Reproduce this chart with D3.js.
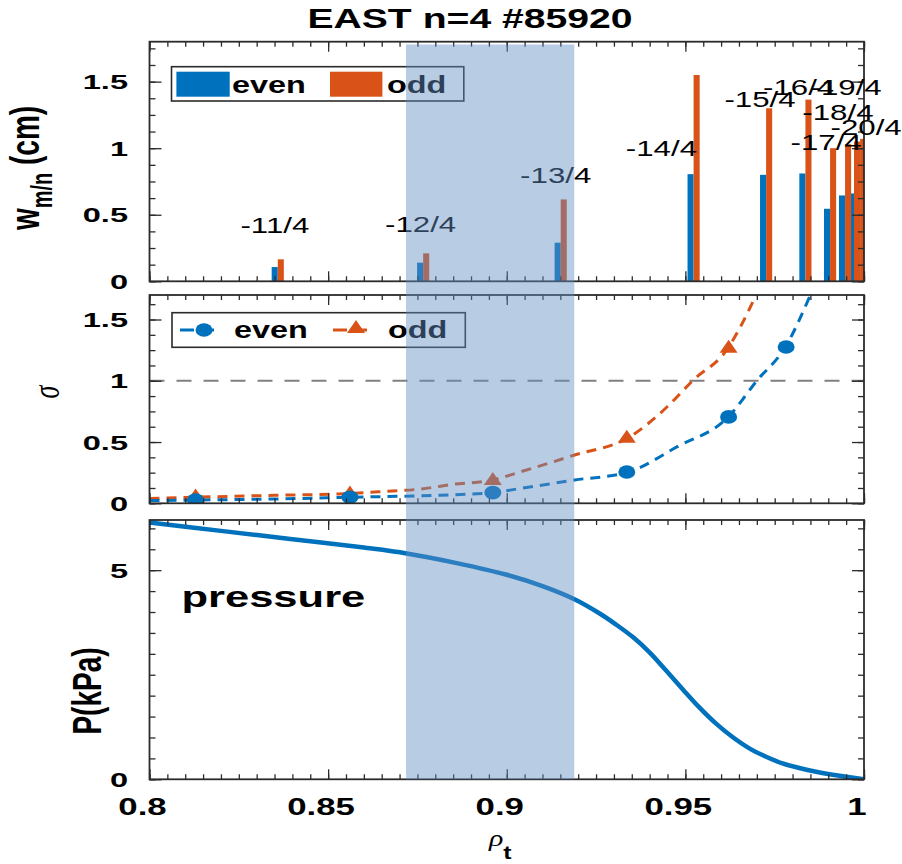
<!DOCTYPE html>
<html><head><meta charset="utf-8">
<script src="https://cdn.jsdelivr.net/npm/d3@7"></script>
<style>html,body{margin:0;padding:0;background:#fff}svg{display:block}</style>
</head><body><div id="chart"></div>
<script>
// ---------------- data ----------------
const modeLabels = ["-11/4","-12/4","-13/4","-14/4","-15/4","-16/4","-17/4","-18/4","-19/4","-20/4"];
const modeRho    = [0.8359,0.8766,0.9151,0.9523,0.9726,0.9836,0.9905,0.9947,0.9972,0.9989];
const widthEven  = [0.107,0.14,0.29,0.805,0.80,0.81,0.545,0.645,0.66,0.66];
const widthOdd   = [0.165,0.21,0.615,1.55,1.30,1.365,1.0,1.03,1.05,1.07];
const labelRho   = [0.8351,0.8759,0.9137,0.9433,0.9709,0.9817,0.9894,0.9927,0.9950,1.0006];
const labelW     = [0.362,0.372,0.735,0.94,1.31,1.40,0.985,1.21,1.40,1.10];

const sigmaEvenPtRho = [0.8129,0.8561,0.8961,0.9336,0.9621,0.9782];
const sigmaEvenPt    = [0.027,0.049,0.087,0.255,0.705,1.276];
const sigmaOddPtRho  = [0.8129,0.8561,0.8961,0.9336,0.9621];
const sigmaOddPt     = [0.055,0.08,0.19,0.535,1.27];
const sigmaEvenRho = [0.800,0.813,0.835,0.856,0.876,0.896,0.904,0.919,0.934,0.9476,0.962,0.970,0.978,0.985];
const sigmaEven    = [0.022,0.027,0.035,0.049,0.062,0.087,0.122,0.19,0.255,0.46,0.705,1.0,1.276,1.70];
const sigmaOddRho  = [0.800,0.813,0.835,0.856,0.865,0.876,0.885,0.896,0.904,0.919,0.934,0.945,0.952,0.962,0.9654,0.9698];
const sigmaOdd     = [0.040,0.050,0.065,0.08,0.095,0.117,0.155,0.19,0.258,0.394,0.535,0.79,1.0,1.27,1.44,1.70];

const pressRho = [0.800,0.820,0.840,0.860,0.872,0.886,0.900,0.910,0.9191,0.9259,0.9306,0.9353,0.9399,0.9446,0.9493,0.9539,0.9586,0.9632,0.9679,0.9726,0.9772,0.9819,0.9866,0.9912,1.000];
const pressure = [6.14,5.94,5.74,5.54,5.40,5.17,4.89,4.62,4.30,3.97,3.70,3.40,3.04,2.60,2.15,1.72,1.33,1.01,0.74,0.54,0.38,0.27,0.18,0.11,0.0];

const bandRho = [0.8718, 0.9189];
const xTicks = [0.8,0.85,0.9,0.95,1];
const xTickLabels = ["0.8","0.85","0.9","0.95","1"];
const wTicks = [0,0.5,1,1.5];
const wTickLabels = ["0","0.5","1","1.5"];
const sTicks = [0,0.5,1,1.5];
const sTickLabels = ["0","0.5","1","1.5"];
const pTicks = [0,5];
const pTickLabels = ["0","5"];

// ---------------- layout ----------------
const W = 902, H = 864, S = 1.45;
const BLUE = "#0072BD", ORANGE = "#D95319", FRAME = "#2b2b2b";
const FONT = "'Liberation Sans', Arial, Helvetica, sans-serif";
const X0 = 149.5, X1 = 864;
const panels = {
  top: {t: 41.7, b: 281.3},
  mid: {t: 295, b: 503.3},
  bot: {t: 520, b: 779.3}
};
const svg = d3.select("#chart").append("svg").attr("width", W).attr("height", H);
const x = d3.scaleLinear().domain([0.8, 1]).range([X0, X1]);
const yW = d3.scaleLinear().domain([0, 1.8]).range([panels.top.b, panels.top.t]);
const yS = d3.scaleLinear().domain([0, 1.7]).range([panels.mid.b, panels.mid.t]);
const yP = d3.scaleLinear().domain([0, 6.2]).range([panels.bot.b, panels.bot.t]);

function stext(parent, px, py, str, o = {}) {
  const g = parent.append("g")
    .attr("transform", `translate(${px},${py}) scale(${o.s || S},1)` + (o.rot ? " rotate(-90)" : ""));
  const t = g.append("text")
    .attr("text-anchor", o.anchor || "start")
    .attr("font-family", o.family || FONT)
    .attr("font-size", o.size || 22)
    .attr("font-weight", o.weight || "normal")
    .attr("font-style", o.style || "normal")
    .attr("fill", o.fill || "#000");
  if (str !== null) t.text(str);
  return t;
}

// clip paths
Object.entries(panels).forEach(([k, p]) => {
  svg.append("clipPath").attr("id", "clip-" + k)
    .append("rect").attr("x", X0).attr("y", p.t).attr("width", X1 - X0).attr("height", p.b - p.t);
});

// ---------------- top panel: bars ----------------
const BW = x(0.8017) - x(0.8);
const gBars = svg.append("g").attr("clip-path", "url(#clip-top)");
gBars.selectAll("rect.even").data(modeRho).join("rect").attr("class", "even")
  .attr("x", (d) => x(d) - BW).attr("width", BW)
  .attr("y", (d, i) => yW(widthEven[i])).attr("height", (d, i) => yW(0) - yW(widthEven[i]))
  .attr("fill", BLUE);
gBars.selectAll("rect.odd").data(modeRho).join("rect").attr("class", "odd")
  .attr("x", (d) => x(d)).attr("width", BW)
  .attr("y", (d, i) => yW(widthOdd[i])).attr("height", (d, i) => yW(0) - yW(widthOdd[i]))
  .attr("fill", ORANGE);

// ---------------- middle panel: sigma ----------------
const gS = svg.append("g").attr("clip-path", "url(#clip-mid)");
gS.append("line").attr("x1", X0).attr("x2", X1).attr("y1", yS(1)).attr("y2", yS(1))
  .attr("stroke", "#808080").attr("stroke-width", 2.2).attr("stroke-dasharray", "15,12");
const lineS = (rr, vv) => d3.line().x((d, i) => x(rr[i])).y((d) => yS(d)).curve(d3.curveMonotoneX)(vv);
gS.append("path").attr("d", lineS(sigmaOddRho, sigmaOdd)).attr("fill", "none")
  .attr("stroke", ORANGE).attr("stroke-width", 3).attr("stroke-dasharray", "10,7");
gS.append("path").attr("d", lineS(sigmaEvenRho, sigmaEven)).attr("fill", "none")
  .attr("stroke", BLUE).attr("stroke-width", 3).attr("stroke-dasharray", "10,7");
const triPath = "M0,-8 L9,5 L-9,5 Z";
gS.selectAll("path.tri").data(sigmaOddPtRho).join("path").attr("class", "tri")
  .attr("d", triPath).attr("fill", ORANGE)
  .attr("transform", (d, i) => `translate(${x(d)},${yS(sigmaOddPt[i])})`);
gS.selectAll("ellipse.dot").data(sigmaEvenPtRho).join("ellipse").attr("class", "dot")
  .attr("cx", (d) => x(d)).attr("cy", (d, i) => yS(sigmaEvenPt[i]))
  .attr("rx", 8.5).attr("ry", 6.8).attr("fill", BLUE);

// ---------------- bottom panel: pressure ----------------
const gP = svg.append("g").attr("clip-path", "url(#clip-bot)");
gP.append("path")
  .attr("d", d3.line().x((d, i) => x(pressRho[i])).y((d) => yP(d)).curve(d3.curveCatmullRom.alpha(0.5))(pressure))
  .attr("fill", "none").attr("stroke", BLUE).attr("stroke-width", 4.5).attr("stroke-linejoin", "round");

// ---------------- frames & ticks ----------------
const minorX = d3.range(0, 41).map((i) => +(0.8 + i * 0.005).toFixed(3));
function frame(p, yScale, majorY, minorY) {
  const g = svg.append("g");
  const ax = (gen, tr) => {
    const a = g.append("g").attr("transform", tr).call(gen);
    a.select(".domain").remove();
    a.selectAll("line").attr("stroke", FRAME).attr("stroke-width", 1.3);
    a.selectAll("text").remove();
  };
  ax(d3.axisBottom(x).tickValues(minorX).tickSize(-5).tickSizeOuter(0), `translate(0,${p.b})`);
  ax(d3.axisBottom(x).tickValues(xTicks).tickSize(-10).tickSizeOuter(0), `translate(0,${p.b})`);
  ax(d3.axisTop(x).tickValues(minorX).tickSize(-5).tickSizeOuter(0), `translate(0,${p.t})`);
  ax(d3.axisTop(x).tickValues(xTicks).tickSize(-10).tickSizeOuter(0), `translate(0,${p.t})`);
  ax(d3.axisLeft(yScale).tickValues(minorY).tickSize(-6).tickSizeOuter(0), `translate(${X0},0)`);
  ax(d3.axisLeft(yScale).tickValues(majorY).tickSize(-12).tickSizeOuter(0), `translate(${X0},0)`);
  ax(d3.axisRight(yScale).tickValues(minorY).tickSize(-6).tickSizeOuter(0), `translate(${X1},0)`);
  ax(d3.axisRight(yScale).tickValues(majorY).tickSize(-12).tickSizeOuter(0), `translate(${X1},0)`);
  g.append("rect").attr("x", X0).attr("y", p.t).attr("width", X1 - X0).attr("height", p.b - p.t)
    .attr("fill", "none").attr("stroke", FRAME).attr("stroke-width", 1.8);
}
frame(panels.top, yW, wTicks, d3.range(0, 15).map((i) => i * 0.125));
frame(panels.mid, yS, sTicks, d3.range(0, 14).map((i) => i * 0.125));
frame(panels.bot, yP, pTicks, d3.range(0, 13).map((i) => i * 0.5));

// y tick labels
const yLab = (ticks, labels, sc) => ticks.forEach((v, i) =>
  stext(svg, 128, sc(v) + 7.5, labels[i], {anchor: "end", size: 21, weight: "bold", s: 1.55}));
yLab(wTicks, wTickLabels, yW);
yLab(sTicks, sTickLabels, yS);
yLab(pTicks, pTickLabels, yP);
// x tick labels
xTicks.forEach((v, i) => stext(svg, x(v) - 7, 815, xTickLabels[i], {anchor: "middle", size: 24, weight: "bold"}));

// bar labels
modeLabels.forEach((lab, i) => stext(svg, x(labelRho[i]), yW(labelW[i]), lab, {anchor: "middle", size: 22, s: 1.42}));

// title
stext(svg, 470, 28.3, "EAST n=4 #85920", {anchor: "middle", size: 27, weight: "bold"});

// axis titles
const tw = stext(svg, 39, 168, null, {anchor: "middle", size: 28, weight: "bold", rot: true});
tw.append("tspan").text("w");
tw.append("tspan").attr("font-size", 20).attr("dy", 9).text("m/n");
tw.append("tspan").attr("dy", -9).text(" (cm)");
stext(svg, 59, 392, "σ", {anchor: "middle", size: 26, style: "italic", rot: true,
  family: "'Liberation Serif', 'DejaVu Serif', serif"});
stext(svg, 101, 691, "P(kPa)", {anchor: "middle", size: 28, weight: "bold", rot: true});
const tr = stext(svg, 489, 846, null, {size: 23, s: 1.3});
tr.append("tspan").attr("font-style", "italic").attr("font-family", "'Liberation Serif', 'DejaVu Serif', serif").text("ρ");
tr.append("tspan").attr("font-size", 19).attr("font-weight", "bold").attr("dy", 13).text("t");

// pressure annotation
stext(svg, 181.5, 607.3, "pressure", {size: 30, weight: "bold"});

// legends
function legendBox(x0, y0, x1, y1) {
  svg.append("rect").attr("x", x0).attr("y", y0).attr("width", x1 - x0).attr("height", y1 - y0)
    .attr("fill", "#fff").attr("stroke", FRAME).attr("stroke-width", 1.6);
}
legendBox(171.5, 66.7, 463.8, 101);
svg.append("rect").attr("x", 176.4).attr("y", 71.7).attr("width", 53.3).attr("height", 25).attr("fill", BLUE);
svg.append("rect").attr("x", 330).attr("y", 71.7).attr("width", 52.4).attr("height", 25).attr("fill", ORANGE);
stext(svg, 232, 92.7, "even", {size: 24, weight: "bold", s: 1.35});
stext(svg, 387, 92.7, "odd", {size: 24, weight: "bold", s: 1.35});

legendBox(172, 312.7, 465.3, 347.3);
svg.append("line").attr("x1", 180).attr("x2", 220).attr("y1", 330).attr("y2", 330)
  .attr("stroke", BLUE).attr("stroke-width", 3).attr("stroke-dasharray", "14,6");
svg.append("ellipse").attr("cx", 204).attr("cy", 330).attr("rx", 8.5).attr("ry", 6.8).attr("fill", BLUE);
svg.append("line").attr("x1", 333).attr("x2", 371).attr("y1", 330).attr("y2", 330)
  .attr("stroke", ORANGE).attr("stroke-width", 3).attr("stroke-dasharray", "14,6");
svg.append("path").attr("d", triPath).attr("fill", ORANGE).attr("transform", "translate(356,328)");
stext(svg, 234, 338.3, "even", {size: 24, weight: "bold", s: 1.35});
stext(svg, 388, 338.3, "odd", {size: 24, weight: "bold", s: 1.35});

// shaded band on top
svg.append("rect").attr("x", x(bandRho[0])).attr("width", x(bandRho[1]) - x(bandRho[0]))
  .attr("y", 44.5).attr("height", panels.bot.b - 44.5)
  .attr("fill", "rgb(98,142,196)").attr("fill-opacity", 0.45);
</script>
</body></html>
